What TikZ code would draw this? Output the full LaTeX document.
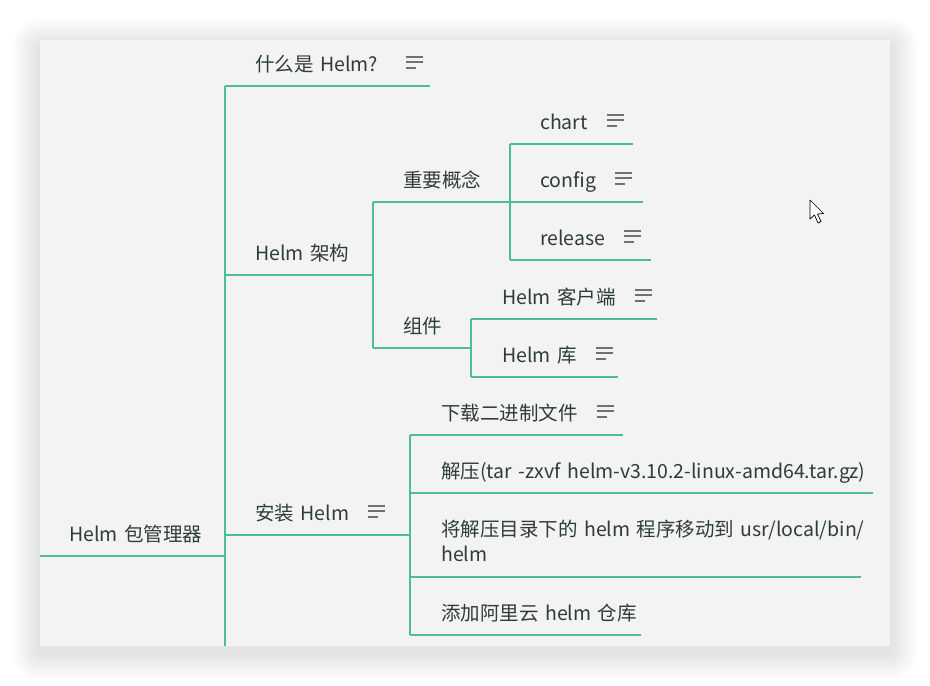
\documentclass[tikz,border=0pt]{standalone}
\usepackage{fontspec}
\setmainfont[WordSpace=0.5]{Noto Sans CJK SC}
\usepackage{xcolor}
\definecolor{mapGreen}{RGB}{76,189,152}
\definecolor{mapText}{RGB}{46,60,60}
\definecolor{mapPanel}{RGB}{243,243,241}
\definecolor{mapIcon}{RGB}{112,112,112}
\usetikzlibrary{positioning,calc}
% note icon behind a topic
\newcommand{\notes}[1][18pt]{\hspace{#1}\tikz[x=1pt,y=1pt,baseline=0pt]{%
  \draw[mapIcon,line width=1.8pt] (0,14.5)--(17,14.5) (0,9.5)--(17,9.5) (0,3.5)--(10,3.5);}}
\newcommand{\ind}{\hspace*{30pt}}

\begin{document}
\begin{tikzpicture}[
  x=1pt, y=-1pt,
  topic/.style={anchor=south west, inner xsep=0pt, inner ysep=14pt, text depth=0pt,
                align=left, text=mapText, font=\fontsize{19.5}{25}\selectfont},
  branch/.style={draw=mapGreen, line width=1.6pt}
]
\useasboundingbox (0,0) rectangle (930,686);
%% panel with soft shadow
\foreach \i in {1,...,14}
  \fill[black, opacity=0.007, rounded corners={2*\i pt}] ({40-2*\i},{46-2*\i}) rectangle ({890+2*\i},{652+2*\i});
\fill[mapPanel] (40,40) rectangle (890,646);

%% root and first level
\node[topic, text width=185pt] (root)    at (40,556)  {\hspace*{29pt}Helm 包管理器};
\node[topic, text width=205pt] (what)    at (225,86)  {\ind 什么是 Helm?\notes[27pt]};
\node[topic, text width=148pt] (arch)    at (225,275) {\ind Helm 架构};
\node[topic, text width=185pt] (install) at (225,535) {\ind 安装 Helm\notes};
\coordinate (cut) at (225,646);

%% Helm 架构
\node[topic, text width=137pt] (concept) at (373,202) {\ind 重要概念};
\node[topic, text width=123pt] (chart)   at (510,144) {\ind chart\notes};
\node[topic, text width=133pt] (config)  at (510,202) {\ind config\notes};
\node[topic, text width=141pt] (release) at (510,260) {\ind release\notes};
\node[topic, text width=98pt]  (parts)   at (373,348) {\ind 组件};
\node[topic, text width=186pt] (client)  at (471,319) {\hspace*{31pt}Helm 客户端\notes};
\node[topic, text width=147pt] (repo)    at (471,377) {\hspace*{31pt}Helm 库\notes};

%% 安装 Helm
\node[topic, text width=213pt] (download) at (410,435) {\hspace*{31pt}下载二进制文件\notes};
\node[topic, text width=463pt] (untar)    at (410,493) {\hspace*{31pt}\mbox{解压(tar -zxvf helm-v3.10.2-linux-amd64.tar.gz)}};
\node[topic, text width=451pt, text depth=25pt, inner ysep=15pt] (move) at (410,577)
  {\hspace*{31pt}\mbox{将解压目录下的 helm 程序移动到 usr/local/bin/}\\\hspace*{31pt}helm};
\node[topic, text width=231pt] (add)      at (410,635) {\hspace*{31pt}添加阿里云 helm 仓库};

%% underlines
\foreach \n in {root,what,arch,install,concept,chart,config,release,parts,client,repo,download,untar,move,add}
  \draw[branch] (\n.south west) -- (\n.south east);

%% connectors
\draw[branch] (what.south west) -- (cut);
\draw[branch] (concept.south west) -- (parts.south west);
\draw[branch] (chart.south west) -- (release.south west);
\draw[branch] (client.south west) -- (repo.south west);
\draw[branch] (download.south west) -- (add.south west);

%% mouse pointer
\draw[black, line width=0.7pt, fill=white, line join=round]
  (810,200) -- (810,219) -- (814.5,215) -- (818,223) -- (821,221.5) -- (817.5,214) -- (823.5,213.5) -- cycle;
\end{tikzpicture}
\end{document}
